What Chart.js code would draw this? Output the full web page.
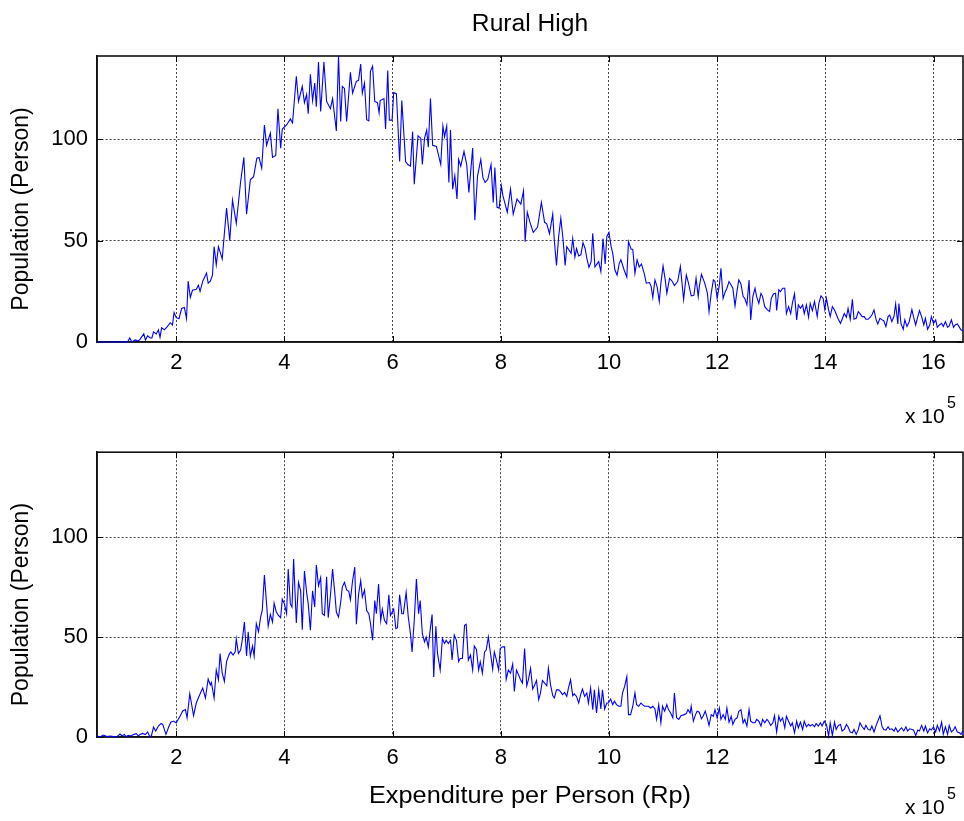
<!DOCTYPE html>
<html>
<head>
<meta charset="utf-8">
<title>Rural High</title>
<script src="https://cdn.jsdelivr.net/npm/chart.js@4.4.1/dist/chart.umd.min.js"></script>
<style>
  html, body { margin: 0; padding: 0; background: #fff; }
  #wrap { position: relative; width: 964px; height: 821px; }
  canvas { position: absolute; left: 0; }
  #top { top: 0; }
  #bottom { top: 430px; }
</style>
</head>
<body>
<div id="wrap">
  <canvas id="top" width="964" height="430"></canvas>
  <canvas id="bottom" width="964" height="391"></canvas>
</div>
<script>
// Expenditure per person, in units of 10^5 Rp, and population counts per bin.
const expTop = [
  0.54, 1.10, 1.14, 1.18, 1.24, 1.30, 1.33, 1.40, 1.43, 1.47,
  1.52, 1.55, 1.58, 1.63, 1.67, 1.70, 1.73, 1.78, 1.83, 1.89,
  1.93, 1.96, 2.00, 2.05, 2.10, 2.15, 2.19, 2.22, 2.26, 2.30,
  2.37, 2.41, 2.44, 2.49, 2.56, 2.59, 2.63, 2.67, 2.70, 2.74,
  2.78, 2.85, 2.93, 2.99, 3.04, 3.11, 3.19, 3.25, 3.30, 3.37,
  3.43, 3.49, 3.53, 3.58, 3.63, 3.67, 3.74, 3.78, 3.84, 3.88,
  3.93, 3.96, 4.04, 4.11, 4.15, 4.22, 4.26, 4.33, 4.37, 4.41,
  4.44, 4.48, 4.52, 4.56, 4.59, 4.63, 4.67, 4.73, 4.78, 4.85,
  4.89, 4.96, 5.00, 5.04, 5.07, 5.11, 5.15, 5.22, 5.26, 5.33,
  5.37, 5.41, 5.44, 5.48, 5.52, 5.56, 5.59, 5.63, 5.67, 5.72,
  5.75, 5.77, 5.84, 5.87, 5.91, 5.94, 5.99, 6.02, 6.07, 6.13,
  6.17, 6.24, 6.28, 6.33, 6.37, 6.40, 6.47, 6.52, 6.55, 6.59,
  6.63, 6.66, 6.70, 6.74, 6.81, 6.89, 6.93, 6.96, 7.00, 7.04,
  7.07, 7.11, 7.15, 7.19, 7.22, 7.26, 7.32, 7.37, 7.41, 7.48,
  7.52, 7.57, 7.63, 7.67, 7.71, 7.76, 7.82, 7.86, 7.89, 7.93,
  7.97, 8.01, 8.04, 8.12, 8.18, 8.23, 8.30, 8.37, 8.42, 8.45,
  8.49, 8.54, 8.60, 8.68, 8.75, 8.81, 8.85, 8.90, 8.96, 8.99,
  9.03, 9.07, 9.11, 9.15, 9.19, 9.22, 9.27, 9.30, 9.33, 9.37,
  9.40, 9.44, 9.48, 9.52, 9.56, 9.59, 9.63, 9.67, 9.70, 9.74,
  9.78, 9.81, 9.85, 9.89, 9.93, 9.96, 10.00, 10.04, 10.07, 10.11,
  10.15, 10.19, 10.22, 10.28, 10.33, 10.36, 10.41, 10.44, 10.48, 10.52,
  10.56, 10.60, 10.65, 10.69, 10.75, 10.78, 10.81, 10.85, 10.89, 10.93,
  10.96, 11.00, 11.04, 11.07, 11.12, 11.16, 11.21, 11.27, 11.32,
  11.38, 11.43, 11.47, 11.52, 11.57, 11.61, 11.65, 11.67, 11.71, 11.77,
  11.82, 11.85, 11.89, 11.93, 11.96, 12.00, 12.04, 12.07, 12.11, 12.15,
  12.18, 12.22, 12.26, 12.29, 12.33, 12.37, 12.40, 12.44, 12.48, 12.51,
  12.55, 12.59, 12.62, 12.66, 12.70, 12.73, 12.77, 12.81, 12.84, 12.88,
  12.93, 12.97, 13.00, 13.04, 13.08, 13.10, 13.14, 13.17, 13.21, 13.25,
  13.28, 13.32, 13.36, 13.39, 13.43, 13.47, 13.50, 13.54, 13.58, 13.61,
  13.65, 13.69, 13.72, 13.76, 13.80, 13.85, 13.88, 13.92, 13.96, 13.99,
  14.02, 14.06, 14.09, 14.13, 14.17, 14.20, 14.24, 14.28, 14.31, 14.35,
  14.39, 14.42, 14.46, 14.50, 14.53, 14.57, 14.61, 14.64, 14.68, 14.72,
  14.75, 14.79, 14.83, 14.86, 14.90, 14.94, 14.97, 15.01, 15.05, 15.08,
  15.12, 15.16, 15.19, 15.23, 15.27, 15.30, 15.34, 15.36, 15.40, 15.44,
  15.47, 15.51, 15.55, 15.60, 15.63, 15.67, 15.71, 15.74, 15.78, 15.82,
  15.85, 15.89, 15.93, 15.96, 16.00, 16.04, 16.07, 16.11, 16.15, 16.18,
  16.22, 16.26, 16.29, 16.33, 16.37, 16.40, 16.44, 16.48, 16.51, 16.54
];
const popTop = [
  0, 0, 2, 0, 1, 0.5, 1.3, 4, 1, 3,
  2, 2, 5, 4, 6, 2.3, 7, 6, 7.5, 9.5,
  8.4, 14.5, 12, 11.5, 16.5, 17, 11.5, 30, 22, 25.5,
  26, 28, 25, 30, 34, 29, 30, 33, 47, 38,
  47, 41, 66, 50, 70, 58.5, 79, 91, 63, 80,
  81.5, 90.6, 91, 85.7, 107, 97, 103, 91, 92, 115,
  95.5, 105, 107, 110, 108, 131, 118.6, 126, 118, 122,
  112.5, 132, 119, 127.7, 116, 138, 113.7, 138, 118.6, 115,
  120, 104, 141, 108.7, 126, 125, 108.7, 133, 122.7, 128.5,
  129, 137, 122.7, 127.7, 109.6, 109, 133.4, 136, 118.6, 118,
  113, 119, 120, 105, 133.8, 109.4, 109.4, 123, 122.4, 89,
  119, 89, 87.5, 86.7, 103.7, 77.8, 101.6, 100.5, 87.5, 100.5,
  104.5, 96, 120, 97, 96.4, 87.5, 106.5, 101.3, 106.5, 78.6,
  104.5, 75.3, 82, 70.5, 90, 86.7, 94, 87.5, 73.7, 95.6,
  60, 81.8, 90, 81, 78.6, 80.2, 87.5, 68.8, 86, 66.4,
  66, 77, 72, 64, 75.3, 63, 70.5, 68, 74.5, 49.4,
  64, 59, 54, 56.7, 68.8, 59, 58.3, 53.4, 63, 50,
  37.7, 52, 61, 50.8, 37.7, 47, 45, 43.7, 51, 41.8,
  46, 42.4, 43, 49, 46, 41.3, 36.8, 39.6, 53.6, 37,
  38.5, 39.6, 34.7, 51, 38.5, 52, 54, 47, 43.7, 35.5,
  33, 38.8, 40.5, 35.5, 32, 49.5, 45.7, 45.7, 33.9, 40.5,
  37, 38.5, 34, 29, 29.3, 27.3, 22, 30.6, 27.3, 20,
  29, 37.5, 30.6, 24, 31.4, 30.3, 27.8, 29.8, 37.2,
  21, 33, 29, 22.7, 23, 31.4, 22.4, 27.3, 33.4, 29,
  24, 15, 24, 30.6, 29.8, 21.5, 28, 36.3, 21.5, 24.8,
  26.5, 29.8, 28, 26.5, 17.8, 25.7, 30.6, 28.6, 22.4, 21.5,
  18.3, 30.6, 10.9, 22.4, 26.5, 22.4, 19, 24, 22.4, 17.4,
  15.8, 15, 21.5, 23.7, 24, 15.5, 25.7, 24.8, 26.5, 26.5,
  14, 17.4, 14, 19, 23.7, 10.9, 18.3, 16.6, 18.3, 14,
  18.3, 12.2, 19, 15.5, 20, 12.5, 19, 22.7, 21.5, 16,
  21.5, 15.8, 12.5, 17.4, 15.8, 13.8, 11.2, 9.2, 11.2, 14,
  12.2, 16.6, 11.2, 21, 11.2, 11.7, 15, 14, 12.5, 12.5,
  11.2, 11.2, 12.2, 13.3, 15.8, 10.9, 8.9, 11.7, 10.9, 10.5,
  7.6, 12.5, 13.3, 10, 12.8, 18.8, 8.9, 19, 8.9, 6.3,
  10.9, 7.6, 10, 16, 12.5, 8.4, 12.5, 15.5, 12.5, 8.4,
  11.7, 6.3, 8.4, 12.5, 9.2, 10.9, 7.2, 8.4, 9.2, 7.6,
  10, 7.2, 7.9, 10.9, 7.2, 8.4, 8.9, 7.2, 5.9, 5.6
];

const expBottom = [
  0.54, 0.59, 0.65, 0.72, 0.78, 0.84, 0.90, 0.96, 1.00, 1.04,
  1.07, 1.12, 1.16, 1.21, 1.26, 1.30, 1.33, 1.38, 1.43, 1.47,
  1.51, 1.54, 1.58, 1.62, 1.67, 1.72, 1.75, 1.81, 1.86, 1.90,
  1.95, 2.00, 2.04, 2.07, 2.12, 2.17, 2.20, 2.25, 2.28, 2.32,
  2.37, 2.42, 2.46, 2.49, 2.54, 2.59, 2.63, 2.65, 2.70, 2.74,
  2.78, 2.81, 2.85, 2.89, 2.93, 2.98, 3.01, 3.05, 3.09, 3.11,
  3.15, 3.19, 3.22, 3.26, 3.30, 3.33, 3.37, 3.41, 3.44, 3.48,
  3.52, 3.56, 3.59, 3.63, 3.67, 3.70, 3.74, 3.78, 3.81, 3.85,
  3.89, 3.93, 3.96, 4.00, 4.04, 4.07, 4.11, 4.14, 4.17, 4.22,
  4.26, 4.30, 4.33, 4.37, 4.41, 4.44, 4.48, 4.52, 4.56, 4.59,
  4.63, 4.67, 4.70, 4.74, 4.78, 4.81, 4.85, 4.89, 4.93, 4.96,
  5.00, 5.04, 5.07, 5.11, 5.15, 5.19, 5.22, 5.26, 5.30, 5.33,
  5.37, 5.41, 5.44, 5.48, 5.52, 5.56, 5.59, 5.63, 5.67, 5.70,
  5.74, 5.78, 5.81, 5.85, 5.89, 5.93, 5.96, 6.02, 6.06, 6.09,
  6.13, 6.17, 6.20, 6.25, 6.29, 6.33, 6.36, 6.40, 6.44, 6.48,
  6.51, 6.55, 6.59, 6.62, 6.66, 6.70, 6.73, 6.76, 6.80, 6.83,
  6.88, 6.92, 6.96, 6.99, 7.03, 7.07, 7.10, 7.14, 7.18, 7.22,
  7.25, 7.29, 7.33, 7.36, 7.40, 7.44, 7.48, 7.51, 7.55, 7.59,
  7.62, 7.66, 7.70, 7.73, 7.77, 7.81, 7.85, 7.88, 7.92, 7.96,
  7.99, 8.03, 8.07, 8.10, 8.14, 8.18, 8.22, 8.25, 8.29, 8.33,
  8.36, 8.40, 8.44, 8.48, 8.51, 8.55, 8.59, 8.62, 8.66, 8.70,
  8.73, 8.77, 8.81, 8.85, 8.88, 8.92, 8.96, 8.99, 9.03, 9.07,
  9.10, 9.14, 9.18, 9.22, 9.25, 9.29, 9.33, 9.36, 9.40, 9.44,
  9.48, 9.51, 9.55, 9.59, 9.62, 9.66, 9.70, 9.73, 9.77, 9.81,
  9.85, 9.88, 9.92, 9.96, 9.99, 10.03, 10.07, 10.10, 10.14, 10.18,
  10.22, 10.25, 10.29, 10.33, 10.36, 10.40, 10.44, 10.48, 10.51, 10.55,
  10.59, 10.62, 10.66, 10.70, 10.73, 10.77, 10.81, 10.85, 10.88, 10.92,
  10.96, 10.99, 11.03, 11.07, 11.10, 11.14, 11.18, 11.21, 11.25, 11.29,
  11.33, 11.39, 11.43, 11.46, 11.50, 11.52, 11.56, 11.60, 11.63, 11.67,
  11.71, 11.74, 11.78, 11.82, 11.85, 11.89, 11.93, 11.96, 12.00, 12.04,
  12.07, 12.11, 12.15, 12.18, 12.22, 12.26, 12.29, 12.33, 12.37, 12.40,
  12.44, 12.48, 12.51, 12.55, 12.59, 12.62, 12.66, 12.70, 12.73, 12.77,
  12.81, 12.84, 12.88, 12.92, 12.95, 12.99, 13.03, 13.06, 13.10, 13.14,
  13.17, 13.21, 13.25, 13.28, 13.32, 13.36, 13.39, 13.43, 13.47, 13.50,
  13.54, 13.58, 13.61, 13.65, 13.69, 13.72, 13.76, 13.80, 13.83, 13.87,
  13.91, 13.94, 13.98, 14.02, 14.06, 14.09, 14.13, 14.17, 14.20, 14.24,
  14.28, 14.31, 14.35, 14.39, 14.42, 14.46, 14.50, 14.53, 14.57, 14.61,
  14.64, 14.68, 14.72, 14.75, 14.79, 14.83, 14.86, 14.90, 14.94, 14.97,
  15.01, 15.05, 15.08, 15.12, 15.16, 15.19, 15.23, 15.27, 15.30, 15.34,
  15.38, 15.41, 15.45, 15.49, 15.52, 15.56, 15.60, 15.63, 15.67, 15.71,
  15.74, 15.78, 15.82, 15.85, 15.89, 15.93, 15.96, 16.00, 16.04, 16.07,
  16.11, 16.15, 16.18, 16.22, 16.26, 16.29, 16.33, 16.37, 16.40, 16.44,
  16.48, 16.51, 16.54
];
const popBottom = [
  0.5, 0, 1, 0.2, 0.5, 0.2, 0, 1.5, 0.5, 1.3,
  0.2, 0.8, 0.5, 1.3, 1.7, 0.5, 1.3, 1.8, 1.2, 2.5,
  0.2, 0.5, 5, 3, 5.5, 6.8, 6.3, 1.3, 5, 7.4,
  8, 7, 9, 10.4, 13, 13.7, 9.6, 21.6, 17, 10.7,
  17, 20.3, 22.8, 24.5, 19.5, 29, 26, 27.3, 19.5, 33.5,
  28.6, 41.8, 32, 27.8, 37.7, 41.5, 42.6, 41, 42.6, 49,
  41.8, 43.5, 48.4, 57.5, 40.5, 52.6, 40.5, 45.5, 40.5, 56.7,
  52.6, 60, 63.3, 81, 66.6, 55.4, 61.3, 57.5, 67, 62.5,
  60.8, 59.7, 69, 66.6, 61.7, 84, 66.6, 65, 89, 57,
  77.4, 73.2, 53.7, 83, 72.4, 66.6, 53.4, 73.2, 65, 86,
  75.7, 79.8, 61.7, 60.8, 80.2, 59.7, 70.7, 84, 72.4, 62.5,
  60, 67.4, 75, 77.4, 73.6, 72.9, 68.6, 78.2, 85, 56.4,
  71.2, 78.2, 70, 73.6, 63.3, 61.7, 57, 48.4, 68.3, 61.7,
  76.5, 58.3, 64, 58.3, 56.7, 71.2, 60.8, 64, 54.2, 54.7,
  71.2, 61.7, 61.7, 72.4, 60, 51.7, 42.6, 58.3, 79, 61.7,
  68.3, 51.7, 47.6, 50, 45, 55, 61.3, 30, 55.4, 41.8,
  33.5, 49.3, 46.8, 48.4, 46.8, 48.4, 38.5, 51, 48.4, 37.7,
  39.3, 39.3, 55.9, 56.4, 38.5, 41, 33.5, 45.5, 43.8, 33.5,
  37.7, 31.9, 42.6, 43.5, 50, 41.8, 33.9, 42.6, 38.5, 33.5,
  44.3, 45.1, 45.1, 28.9, 33.5, 31.9, 36.5, 22.8, 33.5, 31,
  28.9, 27, 44.3, 25.6, 28.6, 34.4, 24, 25.6, 28.3, 18.7,
  21.6, 28.3, 27, 25.6, 34.4, 26.1, 20.7, 19.5, 23.6, 23.6,
  22.8, 21.2, 22.3, 20.3, 24.5, 28.6, 20.7, 21.6, 20.3, 17,
  21.6, 24, 20.3, 22, 17, 24.5, 13.7, 23.6, 12, 23.6,
  14, 23.6, 14, 17, 17, 19, 16.2, 17.9, 16.2, 15.4,
  15.4, 22, 25.3, 30.2, 11.2, 11.2, 15.4, 22, 16.2, 15.4,
  17, 16.2, 15.4, 15.4, 15.4, 14.5, 15.4, 14, 8.8, 16.2,
  7.1, 15.4, 12.9, 16.2, 13.7, 12, 9.6, 22, 9.6, 8.8,
  10.7, 11.2, 11.7, 13.7, 12, 15.4, 7.9, 11.2, 12.9, 12.4,
  9.1, 10.4, 12.9, 9.1, 5.8, 11.2, 10.4, 13.7, 9.6, 14.5,
  8.8, 11.2, 8.8, 14.5, 7.4, 10.4, 6.3, 8.8, 9.6, 12.9,
  13.7, 7.1, 8.8, 5.5, 13.7, 7.9, 7.1, 7.1, 8.8, 7.9,
  5.5, 8.8, 7.1, 8.8, 7.9, 5.8, 7.1, 10.7, 2.5, 10.4,
  7.9, 9.6, 4.6, 10.4, 7.9, 5.5, 7.1, 2.1, 7.9, 4.6,
  7.4, 3.8, 7.9, 5.1, 6.3, 5.5, 6.3, 5.1, 6.8, 5.5,
  7.1, 5.5, 7.9, 6.3, 0.5, 7.1, 0.8, 7.4, 3.8, 5.8,
  6.3, 3, 3.8, 6.3, 5.1, 2.5, 2.1, 3.8, 1.3, 3.8,
  7.1, 5.1, 3.8, 5.8, 3.8, 3.5, 5.5, 2.5, 5.8, 7.9,
  10.7, 5.1, 3.8, 3.5, 5.1, 3.8, 4.1, 3, 4.6, 2.5,
  3.8, 4.6, 3, 5.1, 3, 4.1, 3.8, 3.5, 0.8, 3.5,
  3, 5.8, 3, 5.5, 2.1, 4.1, 3.5, 5.1, 2.5, 5.8,
  3, 7.4, 1.3, 5.1, 1.3, 5.8, 2.5, 3.5, 5.1, 2.5,
  2.1, 1.3, 3
];

// Axis ranges and tick values (x in units of 10^5 Rp).
const xRange = [0.535, 16.545];
const xTicks = [2, 4, 6, 8, 10, 12, 14, 16];
const yTicks = [0, 50, 100];
const yMaxTop = 141;
const yMaxBottom = 142.5;

const FONT = "'Liberation Sans', Arial, Helvetica, sans-serif";

function toPoints(xs, ys) {
  const n = Math.min(xs.length, ys.length);
  const out = [];
  for (let i = 0; i < n; i++) out.push({ x: xs[i], y: ys[i] });
  return out;
}

// Text drawn slightly widened, in the style of the figure's Helvetica labels.
function wideText(ctx, text, x, y, font, stretch, align) {
  ctx.save();
  ctx.font = font;
  ctx.textAlign = align || 'center';
  ctx.textBaseline = 'middle';
  ctx.translate(x, y);
  ctx.scale(stretch, 1);
  ctx.fillText(text, 0, 0);
  ctx.restore();
}

// Box, inward tick marks and the surrounding labels of each axes panel.
function framePlugin(cfg) {
  return {
    id: 'frame',
    beforeDatasetsDraw(chart) {
      const { ctx, chartArea: a, scales } = chart;
      ctx.save();
      ctx.strokeStyle = '#000';
      ctx.lineWidth = 1;
      ctx.setLineDash([]);
      const tl = 6;
      scales.x.ticks.forEach(t => {
        const px = Math.round(scales.x.getPixelForValue(t.value)) + 0.5;
        ctx.beginPath();
        ctx.moveTo(px, a.bottom); ctx.lineTo(px, a.bottom - tl);
        ctx.moveTo(px, a.top); ctx.lineTo(px, a.top + tl);
        ctx.stroke();
      });
      scales.y.ticks.forEach(t => {
        const py = Math.round(scales.y.getPixelForValue(t.value)) + 0.5;
        ctx.beginPath();
        ctx.moveTo(a.left, py); ctx.lineTo(a.left + tl, py);
        ctx.moveTo(a.right, py); ctx.lineTo(a.right - tl, py);
        ctx.stroke();
      });
      ctx.lineWidth = 1.6;
      ctx.strokeStyle = '#111';
      ctx.strokeRect(a.left, a.top, a.right - a.left, a.bottom - a.top);
      ctx.restore();
    },
    afterDraw(chart) {
      const { ctx, chartArea: a } = chart;
      ctx.save();
      ctx.fillStyle = '#000';
      const cx = (a.left + a.right) / 2;
      const cy = (a.top + a.bottom) / 2;
      if (cfg.title) {
        wideText(ctx, cfg.title, cx, a.top - 31, '23px ' + FONT, 1.07);
      }
      // y label
      ctx.save();
      ctx.translate(22, cy + 10);
      ctx.rotate(-Math.PI / 2);
      ctx.font = '23px ' + FONT;
      ctx.textAlign = 'center';
      ctx.textBaseline = 'middle';
      ctx.fillText(cfg.yLabel, 0, 0);
      ctx.restore();
      if (cfg.xLabel) {
        wideText(ctx, cfg.xLabel, cx, a.bottom + 60, '23px ' + FONT, 1.1);
      }
      // exponent marker of the x axis
      ctx.textAlign = 'left';
      ctx.textBaseline = 'alphabetic';
      ctx.font = '21px ' + FONT;
      ctx.fillText('x 10', a.right - 58, a.bottom + cfg.expOffset);
      ctx.font = '16px ' + FONT;
      ctx.fillText('5', a.right - 16, a.bottom + cfg.expOffset - 15);
      ctx.restore();
    }
  };
}

function makeChart(canvasId, xs, ys, yMax, padTop, xAxisHeight, cfg) {
  return new Chart(document.getElementById(canvasId), {
    type: 'line',
    data: {
      datasets: [{
        data: toPoints(xs, ys),
        borderColor: '#0000ff',
        borderWidth: 1.1,
        pointRadius: 0,
        tension: 0,
        fill: false,
        clip: false
      }]
    },
    options: {
      responsive: false,
      animation: false,
      devicePixelRatio: 1,
      layout: { padding: { top: padTop, right: 1, left: 0, bottom: 0 } },
      plugins: { legend: { display: false }, tooltip: { enabled: false }, title: { display: false } },
      scales: {
        x: {
          type: 'linear',
          min: xRange[0],
          max: xRange[1],
          afterBuildTicks: s => { s.ticks = xTicks.map(v => ({ value: v })); },
          afterFit: s => { s.height = xAxisHeight; },
          ticks: { autoSkip: false, maxRotation: 0, padding: 8, color: '#000', font: { family: FONT, size: 22 } },
          grid: { color: '#444', lineWidth: 1, drawTicks: false },
          border: { display: true, color: '#111', width: 1.6, dash: [2, 2] }
        },
        y: {
          type: 'linear',
          min: 0,
          max: yMax,
          afterBuildTicks: s => { s.ticks = yTicks.map(v => ({ value: v })); },
          afterFit: s => { s.width = 97; },
          ticks: { padding: 9, color: '#000', font: { family: FONT, size: 22 } },
          grid: { color: ctx => (ctx.tick && ctx.tick.value === 0 ? 'rgba(0,0,0,0)' : '#444'), lineWidth: 1, drawTicks: false },
          border: { display: true, color: '#111', width: 1.6, dash: [2, 2] }
        }
      }
    },
    plugins: [framePlugin(cfg)]
  });
}

makeChart('top', expTop, popTop, yMaxTop, 56, 88,
  { title: 'Rural High', yLabel: 'Population (Person)', expOffset: 81 });
makeChart('bottom', expBottom, popBottom, yMaxBottom, 20, 84,
  { yLabel: 'Population (Person)', xLabel: 'Expenditure per Person (Rp)', expOffset: 77 });
</script>
</body>
</html>
